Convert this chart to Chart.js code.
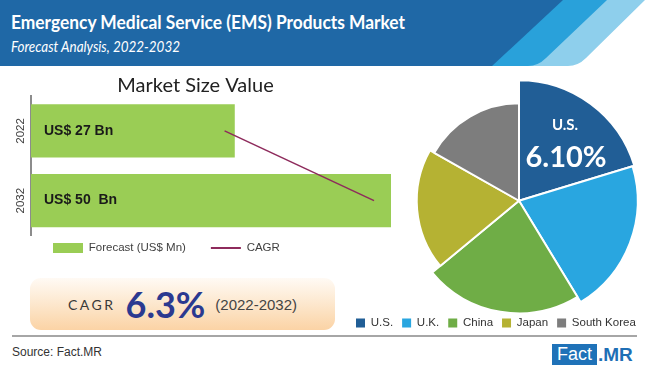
<!DOCTYPE html>
<html><head><meta charset="utf-8">
<script src="https://cdn.jsdelivr.net/npm/chart.js@4.4.1/dist/chart.umd.min.js"></script>
<style>
html,body{margin:0;padding:0;background:#fff;}
#wrap{position:relative;width:650px;height:370px;overflow:hidden;background:#fff;font-family:"Liberation Sans",Arial,sans-serif;}
#hdr{position:absolute;left:0;top:0;}
#barCanvas{position:absolute;left:0;top:70px;}
#pieCanvas{position:absolute;left:340px;top:78px;}
#cagr{position:absolute;left:30px;top:278px;width:305px;height:52px;border-radius:11px;
  background:linear-gradient(to bottom,#fffaf4 0%,#fdebd5 40%,#fbd3a5 100%);
  display:flex;align-items:center;justify-content:center;gap:10px;}
#cagr .k{font-family:Lato,sans-serif;font-size:14px;letter-spacing:2.5px;color:#3a3a3a;}
#cagr .v{font-family:Lato,sans-serif;font-weight:700;font-size:36px;color:#2b3990;line-height:1;}
#cagr .p{font-family:"Liberation Sans",sans-serif;font-size:15px;color:#444;}
#rule{position:absolute;left:12px;top:335px;width:625px;height:2px;background:#a6a6a6;}
#src{position:absolute;left:12px;top:345px;font-size:12px;color:#333;}
#logoF{position:absolute;left:552px;top:344px;width:45px;height:21px;background:#1f72b8;color:#fff;font-size:18px;line-height:21px;text-align:center;}
#logoM{position:absolute;left:598px;top:344px;height:21px;line-height:21px;color:#1e6fb5;font-weight:700;font-size:19px;}
</style></head>
<body><div id="wrap">
<svg id="hdr" width="650" height="70">
  <path d="M0,0 L645,0 L586,58 Q578,66 568,66 L0,66 Z" fill="#8ecfec"/>
  <path d="M0,0 L607,0 L546,58 Q538,66 528,66 L0,66 Z" fill="#29a1da"/>
  <path d="M0,0 L563,0 L492,66 L0,66 Z" fill="#1f68a6"/>
  <text x="11" y="28.5" font-family="Lato, sans-serif" font-weight="700" font-size="19.5" fill="#fff" textLength="394" lengthAdjust="spacingAndGlyphs">Emergency Medical Service (EMS) Products Market</text>
  <text x="11" y="51.5" font-family="Lato, sans-serif" font-style="italic" font-size="16" fill="#fff" textLength="169" lengthAdjust="spacingAndGlyphs">Forecast Analysis, 2022-2032</text>
</svg>
<div id="cagr"><span class="k">CAGR</span><span class="v">6.3%</span><span class="p">(2022-2032)</span></div>
<div id="rule"></div>
<div id="src">Source: Fact.MR</div>
<div id="logoF">Fact</div><div id="logoM">.MR</div>
<canvas id="barCanvas" width="400" height="212"></canvas>
<canvas id="pieCanvas" width="358" height="276"></canvas>
</div>
<script>
// ---- data ----
const years = ['2022', '2032'];
const marketSize = [27, 50];                 // US$ Bn
const barLabels = ['US$ 27 Bn', 'US$ 50  Bn'];
const cagrTrend = [25.5, 47.5];              // CAGR trend line
const regions = ['U.S.', 'U.K.', 'China', 'Japan', 'South Korea'];
const regionShare = [20.3, 21.0, 22.7, 19.2, 16.8];
const highlightRegion = 'U.S.';
const highlightValue = '6.10%';

// ---- styles ----
const regionColors = ['#215e96', '#29a6e0', '#6fad46', '#b5b233', '#7d7d7d'];
const sliceScale = [0.99, 0.975, 0.925, 0.84, 0.80];

Chart.defaults.font.family = '"Liberation Sans", Arial, sans-serif';
Chart.defaults.animation = false;

function legendMover(x, yCenter) {
  return {
    id: 'legendMover',
    beforeDraw(chart) {
      const lg = chart.legend; if (!lg) return;
      const pad = lg.options.labels.padding;
      const fs = lg.options.labels.font.size;
      const dx = x - (lg.left + pad);
      lg.left += dx; lg.right += dx;
      const h = lg.bottom - lg.top;
      lg.top = yCenter - pad - fs / 2; lg.bottom = lg.top + h;
    }
  };
}

const barLabelPlugin = {
  id: 'barLabels',
  afterDatasetsDraw(chart) {
    const meta = chart.getDatasetMeta(0);
    const ctx = chart.ctx;
    ctx.save();
    ctx.font = 'bold 14px "Liberation Sans", Arial, sans-serif';
    ctx.fillStyle = '#1a1a1a';
    ctx.textBaseline = 'middle';
    ctx.textAlign = 'left';
    meta.data.forEach((el, i) => ctx.fillText(barLabels[i], el.base + 13, el.y));
    ctx.restore();
  }
};

new Chart(document.getElementById('barCanvas'), {
  type: 'bar',
  data: {
    labels: years,
    datasets: [
      { type: 'bar', label: 'Forecast (US$ Mn)', data: marketSize, backgroundColor: '#9acd55',
        base: -3, barPercentage: 0.76, categoryPercentage: 1, order: 1, pointStyle: 'rect' },
      { type: 'line', label: 'CAGR', data: cagrTrend, indexAxis: 'y', borderColor: '#8e2b5c',
        backgroundColor: '#8e2b5c', borderWidth: 1.6, pointRadius: 0, order: 0, pointStyle: 'line' }
    ]
  },
  options: {
    indexAxis: 'y',
    responsive: false,
    layout: { padding: { left: 0, right: 9, top: 0, bottom: 0 } },
    scales: {
      x: { display: false, min: -3, max: 50 },
      y: {
        grid: { display: false, drawTicks: false },
        border: { display: true, color: '#8c8c8c', width: 2 },
        ticks: { minRotation: 90, maxRotation: 90, crossAlign: 'center', padding: -3,
                 color: '#404040', font: { size: 11.5 } },
        afterFit(scale) { scale.width = 31; }
      }
    },
    plugins: {
      title: { display: true, text: 'Market Size Value', color: '#222',
               font: { family: 'Lato, sans-serif', size: 20, weight: 'normal', lineHeight: 1 },
               padding: { top: 6, bottom: 0 } },
      legend: {
        position: 'bottom', align: 'start',
        labels: {
          usePointStyle: true, pointStyleWidth: 30, boxHeight: 10, padding: 25,
          color: '#404040', font: { size: 11.5 },
          sort: (a, b) => a.datasetIndex - b.datasetIndex,
          generateLabels(chart) {
            const items = Chart.defaults.plugins.legend.labels.generateLabels(chart);
            items.forEach(it => {
              const ds = chart.data.datasets[it.datasetIndex];
              it.pointStyle = ds.pointStyle;
              if (ds.type === 'line') { it.strokeStyle = ds.borderColor; it.lineWidth = 2; }
              else { it.fillStyle = ds.backgroundColor; it.lineWidth = 0; }
            });
            return items;
          }
        }
      },
      tooltip: { enabled: false }
    }
  },
  plugins: [barLabelPlugin, legendMover(53, 178)]
});

const sliceRadiusPlugin = {
  id: 'sliceRadius',
  beforeDatasetsDraw(chart) {
    const meta = chart.getDatasetMeta(0);
    const R = meta.controller.outerRadius;
    meta.data.forEach((arc, i) => { arc.outerRadius = R * sliceScale[i]; });
  }
};
const pieLabelPlugin = {
  id: 'pieLabel',
  afterDatasetsDraw(chart) {
    const arc = chart.getDatasetMeta(0).data[0];
    const ctx = chart.ctx;
    ctx.save();
    ctx.fillStyle = '#ffffff';
    ctx.textAlign = 'center'; ctx.textBaseline = 'middle';
    ctx.font = 'bold 15px Lato, "Liberation Sans", sans-serif';
    ctx.fillText(highlightRegion, arc.x + 46, arc.y - 76);
    ctx.font = 'bold 29px Lato, "Liberation Sans", sans-serif';
    ctx.fillText(highlightValue, arc.x + 47, arc.y - 43);
    ctx.restore();
  }
};

new Chart(document.getElementById('pieCanvas'), {
  type: 'pie',
  data: {
    labels: regions,
    datasets: [{ data: regionShare, backgroundColor: regionColors, borderColor: '#ffffff', borderWidth: 2 }]
  },
  options: {
    responsive: false,
    layout: { padding: 0 },
    plugins: {
      legend: {
        position: 'bottom', align: 'start',
        labels: {
          boxWidth: 9, boxHeight: 9, padding: 9, color: '#333', font: { size: 11.5 },
          generateLabels(chart) {
            const items = Chart.overrides.pie.plugins.legend.labels.generateLabels(chart);
            items.forEach(it => { it.lineWidth = 0; it.strokeStyle = it.fillStyle; });
            return items;
          }
        }
      },
      tooltip: { enabled: false }
    }
  },
  plugins: [sliceRadiusPlugin, pieLabelPlugin, legendMover(16, 245)]
});
</script>
</body></html>
